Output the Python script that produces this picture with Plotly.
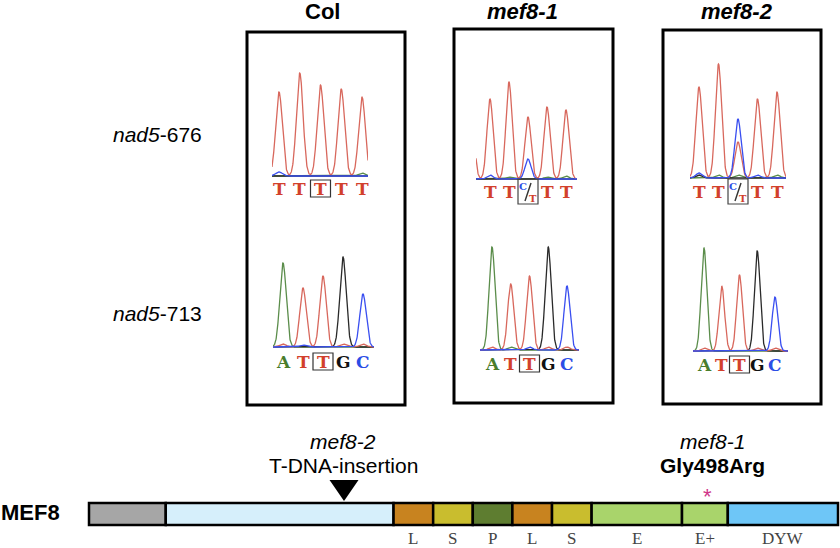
import numpy as np
import plotly.graph_objects as go

W, H = 840, 548

# ---------------- data ----------------
genotypes = ["Col", "mef8-1", "mef8-2"]
sites = ["nad5-676", "nad5-713"]

calls_676_col = ["T", "T", "T", "T", "T"]
calls_676_mut = ["T", "T", "C/T", "T", "T"]
calls_713 = ["A", "T", "T", "G", "C"]
edited_index = 2

# chromatogram peak heights at base positions -1..5 (signal units)
col676_green = [0, 0, 0, 0, 0, 3, 0]
col676_black = [0, 0, 0, 0, 0, 0, 0]
col676_red = [0, 84, 103, 91, 87, 79, 0]
col676_blue = [0, 4, 0, 0, 0, 0, 0]

m1_676_green = [0, 0, 2, 0, 2, 3, 0]
m1_676_black = [0, 0, 0, 0, 0, 0, 0]
m1_676_red = [80, 80, 97, 62, 72, 69, 0]
m1_676_blue = [0, 4, 0, 20, 0, 0, 0]

m2_676_green = [0, 0, 3, 3, 0, 3, 0]
m2_676_black = [0, 3, 0, 0, 0, 0, 0]
m2_676_red = [0, 91, 114, 36, 79, 86, 0]
m2_676_blue = [0, 5, 0, 59, 3, 0, 0]

col713_green = [0, 84, 0, 0, 0, 0, 0]
col713_black = [0, 0, 0, 0, 90, 0, 0]
col713_red = [0, 3, 59, 71, 3, 3, 0]
col713_blue = [0, 0, 2, 0, 0, 53, 0]

m1_713_green = [0, 103, 3, 0, 0, 0, 0]
m1_713_black = [0, 0, 0, 0, 103, 0, 0]
m1_713_red = [0, 3, 66, 74, 3, 3, 0]
m1_713_blue = [0, 0, 0, 3, 0, 64, 0]

m2_713_green = [0, 103, 0, 0, 0, 0, 0]
m2_713_black = [0, 0, 0, 0, 100, 0, 0]
m2_713_red = [0, 3, 65, 76, 3, 3, 0]
m2_713_blue = [0, 0, 0, 0, 0, 54, 0]

# MEF8 protein domains (amino-acid positions)
domain_names = ["", "", "L", "S", "P", "L", "S", "E", "E+", "DYW"]
domain_starts = [0, 62, 246, 278, 310, 342, 374, 406, 479, 516]
domain_ends = [62, 246, 278, 310, 342, 374, 406, 479, 516, 605]
insertion_pos = 206
mutation_pos = 498

# ---------------- styling ----------------
SANS = "Liberation Sans, Arial, sans-serif"
SERIF = "Liberation Serif, Times New Roman, serif"
SLAB = "DejaVu Serif, serif"
TR_COL = {"green": "#5b8d4b", "black": "#2a2a2a", "red": "#d8685d", "blue": "#3a4ff0"}
LET_COL = {"A": "#4a7d2c", "T": "#d2402c", "G": "#111111", "C": "#2b4ee6"}
domain_colors = ["#a6a6a6", "#d6effb", "#c8831f", "#c9bd2e", "#5e7d30",
                 "#c8831f", "#c9bd2e", "#a9d46b", "#a9d46b", "#6ec6f7"]


def pyp(p):
    return 1 - p / H


def pxp(p):
    return p / W


def ann(**kw):
    d = dict(showarrow=False, xanchor="center", yanchor="middle")
    d.update(kw)
    return d


fig = go.Figure()

# panel geometry: first peak px, last peak px, baseline px, trace start px, trace end px, letter y px
panels = [
    ((279, 362, 176, 272, 368, 189), [col676_green, col676_black, col676_red, col676_blue], calls_676_col),
    ((490, 566, 179, 476, 577, 192), [m1_676_green, m1_676_black, m1_676_red, m1_676_blue], calls_676_mut),
    ((699, 777, 178, 690, 786, 192), [m2_676_green, m2_676_black, m2_676_red, m2_676_blue], calls_676_mut),
    ((283, 363, 347, 273, 374, 362), [col713_green, col713_black, col713_red, col713_blue], calls_713),
    ((492, 567, 350, 480, 579, 364), [m1_713_green, m1_713_black, m1_713_red, m1_713_blue], calls_713),
    ((704, 775, 351, 693, 788, 365), [m2_713_green, m2_713_black, m2_713_red, m2_713_blue], calls_713),
]
chan_order = ["green", "black", "red", "blue"]
SIG = 0.16
positions = np.arange(-1, 6)

annotations = []
shapes = []

for k, (g, chans, calls) in enumerate(panels, start=1):
    p0, p4, base, xs, xe, ly = g
    sp = (p4 - p0) / 4
    a = (xs - p0) / sp
    b = (xe - p0) / sp
    xx = np.linspace(a, b, 500)
    xa = "x" if k == 1 else f"x{k}"
    ya = "y" if k == 1 else f"y{k}"
    for cname, hts in zip(chan_order, chans):
        yy = np.zeros_like(xx)
        for h, p in zip(hts, positions):
            yy += h * np.exp(-(xx - p) ** 2 / (2 * SIG ** 2))
        fig.add_trace(go.Scatter(x=xx, y=yy, mode="lines",
                                 line=dict(color=TR_COL[cname], width=1.3),
                                 xaxis=xa, yaxis=ya, hoverinfo="skip", showlegend=False))
    sfx = "" if k == 1 else str(k)
    fig.update_layout(**{
        f"xaxis{sfx}": dict(domain=[pxp(xs), pxp(xe)], range=[a, b], visible=False,
                            anchor=ya, fixedrange=True),
        f"yaxis{sfx}": dict(domain=[pyp(base + 4), pyp(base - 125)], range=[-4, 125],
                            visible=False, anchor=xa, fixedrange=True),
    })
    hw = 10 / sp
    for i, c in enumerate(calls):
        if c == "C/T":
            c1, c2 = c.split("/")
            annotations.append(ann(x=i, y=pyp(ly - 6), xref=xa, yref="paper", text=c1,
                                   xshift=-5,
                                   font=dict(family=SLAB, size=10, color=LET_COL[c1], weight="bold")))
            annotations.append(ann(x=i, y=pyp(ly + 6), xref=xa, yref="paper", text=c2,
                                   xshift=5,
                                   font=dict(family=SLAB, size=10, color=LET_COL[c2], weight="bold")))
            # slash between the two calls
            shapes.append(dict(type="line", xref=xa, yref="paper",
                               x0=i - 3 / sp, x1=i + 3 / sp,
                               y0=pyp(ly + 9), y1=pyp(ly - 9),
                               line=dict(color="#333", width=1.4)))
            shapes.append(dict(type="rect", xref=xa, yref="paper", x0=i - hw, x1=i + hw,
                               y0=pyp(ly - 13), y1=pyp(ly + 12), line=dict(color="#444", width=1.2)))
        else:
            annotations.append(ann(x=i, y=pyp(ly), xref=xa, yref="paper", text=c,
                                   font=dict(family=SLAB, size=17, color=LET_COL[c], weight="bold")))
            if i == edited_index:
                shapes.append(dict(type="rect", xref=xa, yref="paper", x0=i - hw, x1=i + hw,
                                   y0=pyp(ly - 9), y1=pyp(ly + 8), line=dict(color="#333", width=1.2)))

# ---- sample boxes and titles ----
boxes = [(247, 405, 32, 405), (454, 613, 29, 403), (663, 821, 30, 404)]
for (x0, x1, y0, y1) in boxes:
    shapes.append(dict(type="rect", xref="paper", yref="paper", x0=pxp(x0), x1=pxp(x1),
                       y0=pyp(y0), y1=pyp(y1), line=dict(color="black", width=3)))
title_x = [322, 522, 737]
for name, tx in zip(genotypes, title_x):
    txt = f"<b>{name}</b>" if name == "Col" else f"<b><i>{name}</i></b>"
    annotations.append(ann(x=pxp(tx), y=pyp(11), xref="paper", yref="paper", text=txt,
                           font=dict(family=SANS, size=22, color="black")))
site_y = [134, 313]
for s, yv in zip(sites, site_y):
    gname, pos = s.split("-")
    annotations.append(ann(x=pxp(204), y=pyp(yv), xref="paper", yref="paper",
                           text=f"<i>{gname}</i>-{pos}", xanchor="right",
                           font=dict(family=SANS, size=21, color="black")))

# ---- gene model ----
s_px = (838 - 89) / domain_ends[-1]
seg_len = [e - s for s, e in zip(domain_starts, domain_ends)]
fig.add_trace(go.Bar(x=seg_len, base=domain_starts, y=[0] * len(seg_len), orientation="h",
                     width=1, marker=dict(color=domain_colors, line=dict(color="black", width=2.5)),
                     xaxis="x7", yaxis="y7", hoverinfo="skip", showlegend=False))
fig.update_layout(
    xaxis7=dict(domain=[pxp(84), 1.0], range=[(84 - 89) / s_px, (840 - 89) / s_px],
                visible=False, anchor="y7", fixedrange=True),
    yaxis7=dict(domain=[pyp(533), pyp(495)], range=[-0.864, 0.864], visible=False,
                anchor="x7", fixedrange=True),
)
for nm, s, e in zip(domain_names, domain_starts, domain_ends):
    if nm:
        annotations.append(ann(x=(s + e) / 2, y=pyp(538), xref="x7", yref="paper", text=nm,
                               font=dict(family=SERIF, size=17, color="#444")))

tw = 14.5 / s_px
shapes.append(dict(type="path", xref="x7", yref="paper",
                   path=f"M {insertion_pos - tw} {pyp(480)} L {insertion_pos + tw} {pyp(480)} "
                        f"L {insertion_pos} {pyp(501)} Z",
                   fillcolor="black", line=dict(color="black", width=0)))

annotations += [
    ann(x=insertion_pos, y=pyp(441), xref="x7", yref="paper", text="<i>mef8-2</i>",
        xshift=-1, font=dict(family=SANS, size=21, color="black")),
    ann(x=insertion_pos, y=pyp(465), xref="x7", yref="paper", text="T-DNA-insertion",
        xshift=-1, font=dict(family=SANS, size=21, color="black")),
    ann(x=mutation_pos, y=pyp(441), xref="x7", yref="paper", text="<i>mef8-1</i>",
        xshift=7, font=dict(family=SANS, size=21, color="black")),
    ann(x=mutation_pos, y=pyp(465), xref="x7", yref="paper", text="<b>Gly498Arg</b>",
        xshift=7, font=dict(family=SANS, size=21, color="black")),
    ann(x=mutation_pos, y=pyp(496), xref="x7", yref="paper", text="*",
        xshift=2, font=dict(family=SANS, size=22, color="#d0358a")),
    ann(x=pxp(30), y=pyp(512), xref="paper", yref="paper", text="<b>MEF8</b>",
        font=dict(family=SANS, size=22, color="black")),
]

fig.update_layout(
    width=W, height=H, margin=dict(l=0, r=0, t=0, b=0),
    paper_bgcolor="white", plot_bgcolor="white",
    annotations=annotations, shapes=shapes, showlegend=False,
)

fig.write_html("out.html", config={"displayModeBar": False},
               post_script="document.body.style.margin='0';")
